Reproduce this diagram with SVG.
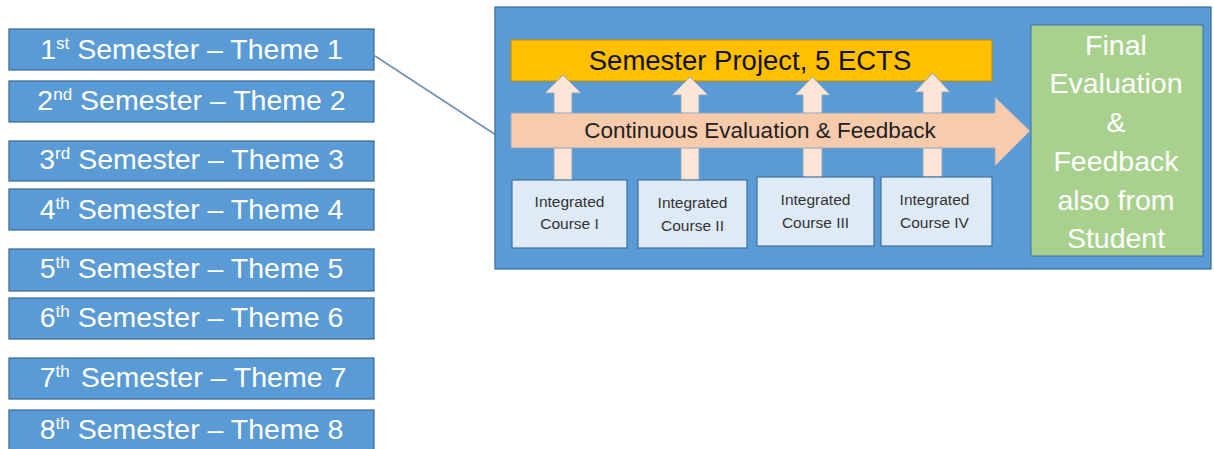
<svg xmlns="http://www.w3.org/2000/svg" width="1214" height="449" viewBox="0 0 1214 449">
<style>
.sem{fill:#5b9bd5;stroke:#41719c;stroke-width:1.3}
.semt{font-family:"Liberation Sans",Arial,sans-serif;font-size:28.5px;fill:#ffffff;text-anchor:middle}
.sup{font-size:17px}
.course{fill:#deebf7;stroke:#41719c;stroke-width:1.2}
.ct{font-family:"Liberation Sans",Arial,sans-serif;font-size:15.5px;fill:#333333;text-anchor:middle}
.up{fill:#fbe5d6;stroke:#8fa9c4;stroke-width:1}
</style>
<rect width="1214" height="449" fill="#ffffff"/>
<g id="connectors">
<line x1="375" y1="56" x2="499" y2="137" stroke="#6f8fb3" stroke-width="1.5"/>
</g>
<g id="sem1"><rect class="sem" x="9" y="29" width="365" height="41"/><text class="semt" x="191.5" y="59">1<tspan class="sup" dy="-10">st</tspan><tspan dy="10"> Semester – Theme 1</tspan></text></g>
<g id="sem2"><rect class="sem" x="9" y="81" width="365" height="41"/><text class="semt" x="191.5" y="110">2<tspan class="sup" dy="-10">nd</tspan><tspan dy="10"> Semester – Theme 2</tspan></text></g>
<g id="sem3"><rect class="sem" x="9" y="141" width="365" height="40"/><text class="semt" x="191.5" y="169">3<tspan class="sup" dy="-10">rd</tspan><tspan dy="10"> Semester – Theme 3</tspan></text></g>
<g id="sem4"><rect class="sem" x="9" y="189" width="365" height="41"/><text class="semt" x="191.5" y="219">4<tspan class="sup" dy="-10">th</tspan><tspan dy="10"> Semester – Theme 4</tspan></text></g>
<g id="sem5"><rect class="sem" x="9" y="249" width="365" height="42"/><text class="semt" x="191.5" y="278">5<tspan class="sup" dy="-10">th</tspan><tspan dy="10"> Semester – Theme 5</tspan></text></g>
<g id="sem6"><rect class="sem" x="9" y="298" width="365" height="41"/><text class="semt" x="191.5" y="327">6<tspan class="sup" dy="-10">th</tspan><tspan dy="10"> Semester – Theme 6</tspan></text></g>
<g id="sem7"><rect class="sem" x="9" y="358" width="365" height="41"/><text class="semt" x="193" y="387">7<tspan class="sup" dy="-10">th</tspan><tspan dy="10" dx="3"> Semester – Theme 7</tspan></text></g>
<g id="sem8"><rect class="sem" x="9" y="410" width="365" height="42"/><text class="semt" x="191.5" y="439">8<tspan class="sup" dy="-10">th</tspan><tspan dy="10"> Semester – Theme 8</tspan></text></g>
<g id="panel"><rect x="495" y="7" width="716" height="262" fill="#5b9bd5" stroke="#41719c" stroke-width="1.3"/></g>
<g id="project"><rect x="511" y="40" width="481" height="41" fill="#ffc000" stroke="#bc8c00" stroke-width="1"/><text x="750" y="70" font-family="'Liberation Sans',Arial,sans-serif" font-size="27.5" fill="#111111" text-anchor="middle">Semester Project, 5 ECTS</text></g>
<g id="up-arrows">
<path class="up" d="M554,181 V93 H545 L563,75 L581,93 H572 V181 Z"/>
<path class="up" d="M681,183 V95 H672 L690,77 L708,95 H699 V183 Z"/>
<path class="up" d="M803,181 V95 H795 L812.5,77 L830,95 H822 V181 Z"/>
<path class="up" d="M923,177 V92 H915 L932.5,73 L950,92 H942 V177 Z"/>
</g>
<g id="continuous"><path d="M511,113 H995 V97 L1030,131 L995,166 V148 H511 Z" fill="#f8cbad" stroke="#8fa9c4" stroke-width="1"/><text x="760" y="138" font-family="'Liberation Sans',Arial,sans-serif" font-size="22.5" fill="#222222" text-anchor="middle">Continuous Evaluation &amp; Feedback</text></g>
<g id="course1"><rect class="course" x="512" y="180" width="115" height="68"/><text class="ct" x="569.5" y="207">Integrated</text><text class="ct" x="569.5" y="229">Course I</text></g>
<g id="course2"><rect class="course" x="638" y="180" width="109" height="68"/><text class="ct" x="692.5" y="208">Integrated</text><text class="ct" x="692.5" y="231">Course II</text></g>
<g id="course3"><rect class="course" x="757" y="177" width="117" height="69"/><text class="ct" x="815.5" y="205">Integrated</text><text class="ct" x="815.5" y="228">Course III</text></g>
<g id="course4"><rect class="course" x="881" y="177" width="111" height="69"/><text class="ct" x="934.5" y="205">Integrated</text><text class="ct" x="934.5" y="228">Course IV</text></g>
<g id="final"><rect x="1031" y="25" width="172" height="231" fill="#a9d18e" stroke="#41719c" stroke-width="1"/>
<text font-family="'Liberation Sans',Arial,sans-serif" font-size="28.5" fill="#ffffff" text-anchor="middle">
<tspan x="1116" y="55">Final</tspan><tspan x="1116" y="93">Evaluation</tspan><tspan x="1116" y="132">&amp;</tspan><tspan x="1116" y="171">Feedback</tspan><tspan x="1116" y="210">also from</tspan><tspan x="1116" y="248">Student</tspan></text></g>
</svg>
